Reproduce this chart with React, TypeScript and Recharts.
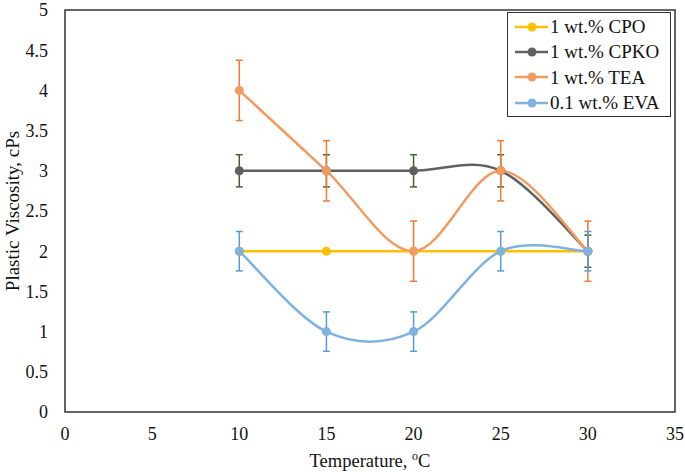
import {
  LineChart,
  Line,
  XAxis,
  YAxis,
  ErrorBar,
  Legend,
  Label,
  ReferenceArea,
} from "recharts";

const temps = [10, 15, 20, 25, 30];
const cpo = [2, 2, 2, 2, 2];
const cpko = [3, 3, 3, 3, 2];
const cpkoErr = [0.2, 0.2, 0.2, 0.2, 0.2];
const tea = [4, 3, 2, 3, 2];
const teaErr = [0.375, 0.375, 0.375, 0.375, 0.375];
const eva = [2, 1, 1, 2, 2];
const evaErr = [0.245, 0.245, 0.245, 0.245, 0.245];

const xTicks = [0, 5, 10, 15, 20, 25, 30, 35];
const yTicks = [0, 0.5, 1, 1.5, 2, 2.5, 3, 3.5, 4, 4.5, 5];

const data = temps.map((t, i) => ({
  t,
  cpo: cpo[i],
  cpko: cpko[i],
  cpkoErr: cpkoErr[i],
  tea: tea[i],
  teaErr: teaErr[i],
  eva: eva[i],
  evaErr: evaErr[i],
}));

const series = [
  { key: "cpo", name: "1 wt.% CPO", color: "#FFC000" },
  { key: "cpko", name: "1 wt.% CPKO", color: "#606060" },
  { key: "tea", name: "1 wt.% TEA", color: "#F29B60" },
  { key: "eva", name: "0.1 wt.% EVA", color: "#7FB2E0" },
];

const FONT = "'Liberation Serif', 'Times New Roman', serif";

// excel-like smoothed line (catmull-rom bezier)
const excelSmooth = (context: any) => {
  let pts: number[][] = [];
  return {
    areaStart() {},
    areaEnd() {},
    lineStart() {
      pts = [];
    },
    point(x: number, y: number) {
      pts.push([+x, +y]);
    },
    lineEnd() {
      if (!pts.length) return;
      context.moveTo(pts[0][0], pts[0][1]);
      for (let i = 0; i < pts.length - 1; i++) {
        const p0 = pts[Math.max(i - 1, 0)];
        const p1 = pts[i];
        const p2 = pts[i + 1];
        const p3 = pts[Math.min(i + 2, pts.length - 1)];
        context.bezierCurveTo(
          p1[0] + (p2[0] - p0[0]) / 6,
          p1[1] + (p2[1] - p0[1]) / 6,
          p2[0] - (p3[0] - p1[0]) / 6,
          p2[1] - (p3[1] - p1[1]) / 6,
          p2[0],
          p2[1]
        );
      }
    },
  };
};

const LegendBox = () => (
  <div
    style={{
      border: "1.5px solid #333",
      background: "#fff",
      padding: "1px 0",
      fontFamily: FONT,
      fontSize: 19,
      color: "#111",
      width: 164,
      boxSizing: "border-box",
    }}
  >
    {series.map((s) => (
      <div
        key={s.key}
        style={{ display: "flex", alignItems: "center", height: 25.3, lineHeight: "25px" }}
      >
        <svg width={42} height={12} style={{ flexShrink: 0 }}>
          <line x1={7} y1={6} x2={40} y2={6} stroke={s.color} strokeWidth={2.5} />
          <circle cx={24} cy={6} r={4.5} fill={s.color} />
        </svg>
        <span style={{ whiteSpace: "nowrap" }}>{s.name}</span>
      </div>
    ))}
  </div>
);

const XTitle = (props: any) => {
  const { x, y, width, height } = props.viewBox;
  return (
    <text
      x={x + width / 2}
      y={y + height - 6}
      textAnchor="middle"
      fontFamily={FONT}
      fontSize={18.5}
      fill="#111"
    >
      Temperature,{" "}
      <tspan fontSize={12} dy={-7}>
        o
      </tspan>
      <tspan dy={7}>C</tspan>
    </text>
  );
};

export default function App() {
  return (
    <div style={{ width: 685, height: 473, background: "#fff" }}>
      <style>{"body{margin:0}"}</style>
      <LineChart
        width={685}
        height={473}
        data={data}
        margin={{ top: 10, right: 10, left: 0, bottom: 0 }}
      >
        <XAxis
          dataKey="t"
          type="number"
          domain={[0, 35]}
          ticks={xTicks}
          interval={0}
          height={61}
          axisLine={false}
          tickLine={false}
          tickSize={0}
          tickMargin={15}
          tick={{ fontFamily: FONT, fontSize: 18, fill: "#111" }}
        >
          <Label content={XTitle} />
        </XAxis>
        <YAxis
          type="number"
          domain={[0, 5]}
          ticks={yTicks}
          interval={0}
          width={65}
          axisLine={false}
          tickLine={false}
          tickSize={0}
          tickMargin={17}
          tick={{ fontFamily: FONT, fontSize: 18, fill: "#111" }}
        >
          <Label
            value="Plastic Viscosity, cPs"
            angle={-90}
            position="insideLeft"
            offset={12}
            style={{ textAnchor: "middle", fontFamily: FONT, fontSize: 19, fill: "#111" }}
          />
        </YAxis>
        <ReferenceArea
          x1={0}
          x2={35}
          y1={0}
          y2={5}
          fill="none"
          fillOpacity={0}
          stroke="#333"
          strokeWidth={1.5}
          ifOverflow="visible"
        />
        <Legend
          layout="horizontal"
          verticalAlign="middle"
          align="center"
          content={LegendBox}
          wrapperStyle={{ top: 12, left: 507, width: 164 }}
        />
        <Line
          dataKey="cpo"
          name="1 wt.% CPO"
          type={excelSmooth as any}
          stroke="#FFC000"
          strokeWidth={2.5}
          dot={{ r: 4.5, fill: "#FFC000", stroke: "#FFC000", strokeWidth: 0 }}
          activeDot={false}
          isAnimationActive={false}
        />
        <Line
          dataKey="cpko"
          name="1 wt.% CPKO"
          type={excelSmooth as any}
          stroke="#606060"
          strokeWidth={2.5}
          dot={{ r: 4.5, fill: "#606060", stroke: "#606060", strokeWidth: 0 }}
          activeDot={false}
          isAnimationActive={false}
        >
          <ErrorBar dataKey="cpkoErr" direction="y" width={3.5} stroke="#44602E" strokeWidth={1.5} />
        </Line>
        <Line
          dataKey="tea"
          name="1 wt.% TEA"
          type={excelSmooth as any}
          stroke="#F29B60"
          strokeWidth={2.5}
          dot={{ r: 4.5, fill: "#F29B60", stroke: "#F29B60", strokeWidth: 0 }}
          activeDot={false}
          isAnimationActive={false}
        >
          <ErrorBar dataKey="teaErr" direction="y" width={3.5} stroke="#ED7D31" strokeWidth={1.5} />
        </Line>
        <Line
          dataKey="eva"
          name="0.1 wt.% EVA"
          type={excelSmooth as any}
          stroke="#7FB2E0"
          strokeWidth={2.5}
          dot={{ r: 4.5, fill: "#7FB2E0", stroke: "#7FB2E0", strokeWidth: 0 }}
          activeDot={false}
          isAnimationActive={false}
        >
          <ErrorBar dataKey="evaErr" direction="y" width={3.5} stroke="#5B9BD5" strokeWidth={1.5} />
        </Line>
      </LineChart>
    </div>
  );
}
